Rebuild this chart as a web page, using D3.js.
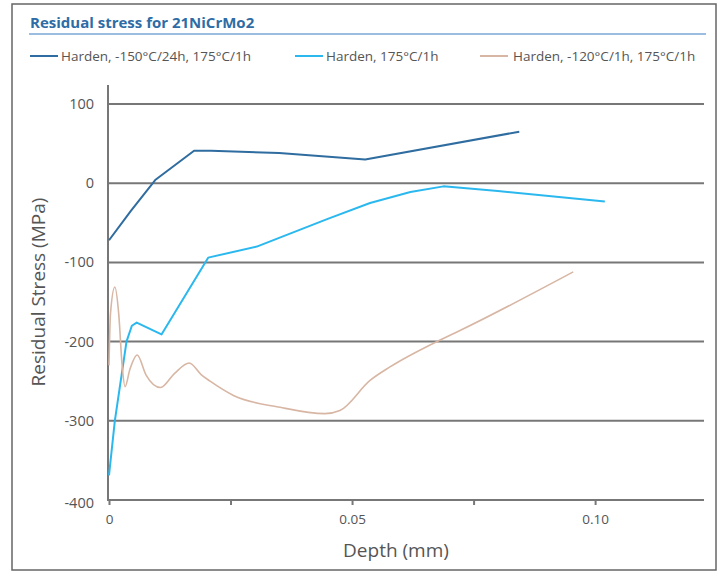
<!DOCTYPE html>
<html>
<head>
<meta charset="utf-8">
<script src="https://cdn.jsdelivr.net/npm/d3@7"></script>
<style>
  body { margin: 0; background: #fff; }
  text { font-family: "Open Sans", "Noto Sans", sans-serif; }
</style>
</head>
<body>
<div id="chart"></div>
<script>
// data: depth (mm), residual stress (MPa)
var depthTicks = [0, 0.025, 0.05, 0.075, 0.10];
var depthLabels = ["0", "", "0.05", "", "0.10"];
var stressTicks = [100, 0, -100, -200, -300, -400];

var seriesNames = ["Harden, -150°C/24h, 175°C/1h", "Harden, 175°C/1h", "Harden, -120°C/1h, 175°C/1h"];

var harden150 = [
  [0, -72], [0.0045, -35], [0.0095, 4], [0.0175, 41], [0.021, 41],
  [0.035, 38], [0.0527, 30], [0.0844, 65]
];

var harden175 = [
  [0, -369], [0.0012, -300], [0.0036, -200], [0.0047, -180], [0.0057, -176],
  [0.0108, -191], [0.0204, -94], [0.0304, -80], [0.035, -69], [0.045, -45],
  [0.0537, -25], [0.062, -11], [0.0688, -4], [0.08, -10], [0.102, -23]
];

var harden120 = [
  [0, -230], [0.0003, -165], [0.0012, -131], [0.002, -165], [0.0027, -230],
  [0.0033, -257], [0.0043, -235], [0.0058, -217], [0.0076, -242], [0.0106, -258],
  [0.0135, -240], [0.0165, -227], [0.019, -242], [0.0208, -250], [0.0256, -268],
  [0.0352, -283], [0.0444, -291], [0.0475, -287], [0.0537, -249], [0.0578, -232],
  [0.0681, -198], [0.0722, -186], [0.0955, -112]
];

var allSeries = [harden150, harden175, harden120];
var colors = ["#2f6c9f", "#2bb8ee", "#d8b6a4"];
var widths = [2, 2, 1.6];

var W = 720, H = 571;

var svg = d3.select("#chart").append("svg")
  .attr("width", W)
  .attr("height", H);

// frame
svg.append("rect")
  .attr("x", 12).attr("y", 4)
  .attr("width", 704).attr("height", 566)
  .attr("fill", "none").attr("stroke", "#666").attr("stroke-width", 1.5);

// title
svg.append("text")
  .attr("x", 30).attr("y", 28)
  .attr("fill", "#2e6ca6")
  .attr("font-size", 15)
  .attr("font-weight", "bold")
  .text("Residual stress for 21NiCrMo2");

svg.append("line")
  .attr("x1", 29).attr("x2", 706)
  .attr("y1", 34).attr("y2", 34)
  .attr("stroke", "#7aa9d6").attr("stroke-width", 1.5);

// legend
var legendX = [30, 295, 480];
var legend = svg.selectAll(".legend")
  .data(seriesNames)
  .enter().append("g")
  .attr("class", "legend")
  .attr("transform", function(d, i) { return "translate(" + legendX[i] + ",56)"; });

legend.append("line")
  .attr("x1", 0).attr("x2", 28)
  .attr("stroke", function(d, i) { return colors[i]; })
  .attr("stroke-width", 2);

legend.append("text")
  .attr("x", function(d, i) { return i === 2 ? 33 : 31; })
  .attr("dy", "0.35em")
  .attr("font-size", 13.5)
  .attr("fill", "#555")
  .text(function(d) { return d; });

// scales
var x = d3.scaleLinear()
  .domain([0, 0.1224])
  .range([109, 704]);

var y = d3.scaleLinear()
  .domain([-400, 100])
  .range([500, 104]);

// gridlines
svg.selectAll(".grid")
  .data(stressTicks)
  .enter().append("line")
  .attr("class", "grid")
  .attr("x1", 108).attr("x2", 704)
  .attr("y1", function(d) { return y(d); })
  .attr("y2", function(d) { return y(d); })
  .attr("stroke", "#777").attr("stroke-width", 2);

// y axis line
svg.append("line")
  .attr("x1", 108).attr("x2", 108)
  .attr("y1", 85).attr("y2", 501)
  .attr("stroke", "#777").attr("stroke-width", 2);

// y tick labels
svg.selectAll(".ylab")
  .data(stressTicks)
  .enter().append("text")
  .attr("class", "ylab")
  .attr("x", 94)
  .attr("y", function(d) { return d === -400 ? y(d) + 3 : y(d); })
  .attr("dy", "0.35em")
  .attr("text-anchor", "end")
  .attr("font-size", 14.5)
  .attr("fill", "#555")
  .text(function(d) { return d; });

// x axis ticks and labels
var xAxis = d3.axisBottom(x)
  .tickValues(depthTicks)
  .tickSize(5)
  .tickPadding(9)
  .tickFormat(function(d, i) { return depthLabels[i]; });

var gx = svg.append("g")
  .attr("transform", "translate(0,500)")
  .call(xAxis);
gx.select(".domain").remove();
gx.selectAll(".tick line").attr("stroke", "#777").attr("stroke-width", 2);
gx.selectAll(".tick text")
  .attr("font-size", 13.5)
  .attr("font-family", "Open Sans, sans-serif")
  .attr("fill", "#555");

// axis titles
svg.append("text")
  .attr("x", 396).attr("y", 557)
  .attr("text-anchor", "middle")
  .attr("font-size", 19)
  .attr("fill", "#555")
  .text("Depth (mm)");

svg.append("text")
  .attr("transform", "translate(45,292) rotate(-90)")
  .attr("text-anchor", "middle")
  .attr("font-size", 19)
  .attr("fill", "#555")
  .text("Residual Stress (MPa)");

// lines
var line = d3.line()
  .x(function(d) { return x(d[0]); })
  .y(function(d) { return y(d[1]); });

var smooth = d3.line()
  .curve(d3.curveMonotoneX)
  .x(function(d) { return x(d[0]); })
  .y(function(d) { return y(d[1]); });

svg.selectAll(".series")
  .data(allSeries)
  .enter().append("path")
  .attr("class", "series")
  .attr("fill", "none")
  .attr("stroke", function(d, i) { return colors[i]; })
  .attr("stroke-width", function(d, i) { return widths[i]; })
  .attr("stroke-linejoin", "round")
  .attr("d", function(d, i) { return i === 2 ? smooth(d) : line(d); });
</script>
</body>
</html>
